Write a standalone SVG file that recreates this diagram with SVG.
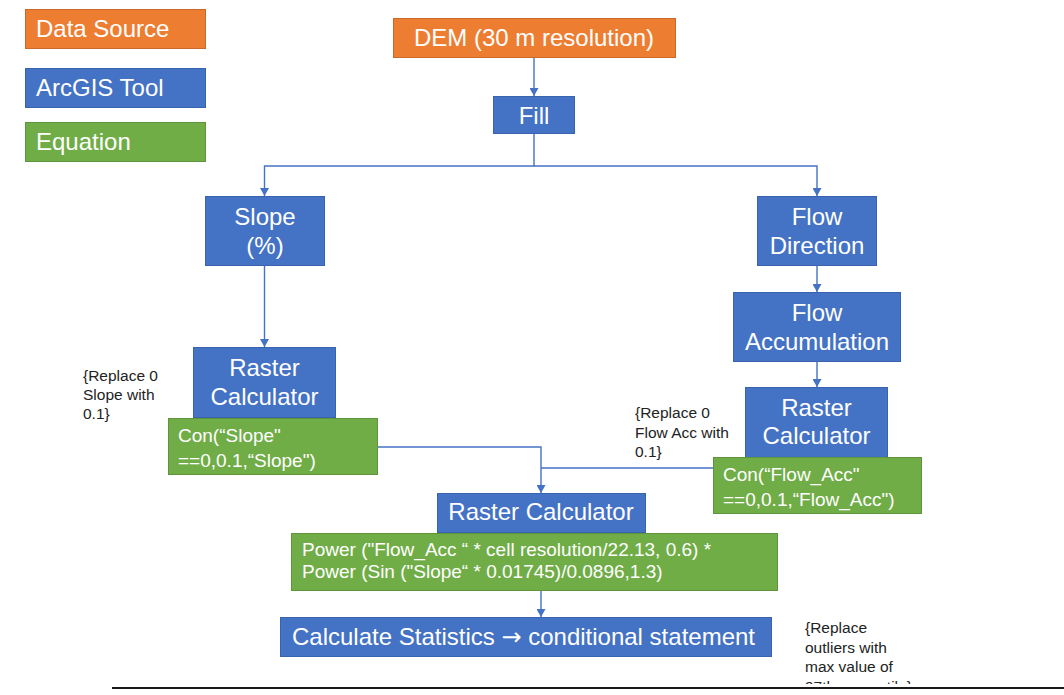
<svg xmlns="http://www.w3.org/2000/svg" width="1064" height="695" viewBox="0 0 1064 695">
  <defs>
    <style>
      .src{fill:#ED7D31;stroke:#C9692A;stroke-width:1}
      .tool{fill:#4472C4;stroke:#3A63AD;stroke-width:1}
      .eq{fill:#70AD47;stroke:#5E943B;stroke-width:1}
      .big{font-family:"Liberation Sans",Arial,sans-serif;font-size:24px;fill:#FFFFFF}
      .mid{font-family:"Liberation Sans",Arial,sans-serif;font-size:19px;fill:#FFFFFF}
      .note{font-family:"Liberation Sans",Arial,sans-serif;font-size:15.5px;fill:#222222}
      .c{text-anchor:middle}
      .arrowglyph{font-family:"DejaVu Sans",sans-serif;font-size:24px}
      .conn{fill:none;stroke:#4472C4;stroke-width:1.4}
    </style>
    <marker id="arr" markerUnits="userSpaceOnUse" markerWidth="9" markerHeight="9" refX="8" refY="4.5" orient="auto">
      <path d="M0,0 L8,4.5 L0,9 z" fill="#4472C4"/>
    </marker>
    <clipPath id="clipNote">
      <rect x="790" y="600" width="274" height="84"/>
    </clipPath>
  </defs>
  <rect width="1064" height="695" fill="#FFFFFF"/>

  <g id="legend-data-source">
    <rect class="src" x="25.5" y="9.5" width="180" height="39"/>
    <text class="big" x="36" y="37">Data Source</text>
  </g>
  <g id="legend-arcgis-tool">
    <rect class="tool" x="25.5" y="68.5" width="180" height="39"/>
    <text class="big" x="36" y="96">ArcGIS Tool</text>
  </g>
  <g id="legend-equation">
    <rect class="eq" x="25.5" y="122.5" width="180" height="39"/>
    <text class="big" x="36" y="150">Equation</text>
  </g>

  <g id="connectors">
    <path class="conn" d="M534,58 V96" marker-end="url(#arr)"/>
    <path class="conn" d="M534,134 V166 H264.5 V196" marker-end="url(#arr)"/>
    <path class="conn" d="M534,166 H817 V196" marker-end="url(#arr)"/>
    <path class="conn" d="M264.5,266 V347" marker-end="url(#arr)"/>
    <path class="conn" d="M817,266 V292" marker-end="url(#arr)"/>
    <path class="conn" d="M817,362 V387" marker-end="url(#arr)"/>
    <path class="conn" d="M378,447 H541 V493" marker-end="url(#arr)"/>
    <path class="conn" d="M713,468 H541"/>
    <path class="conn" d="M541,591 V617" marker-end="url(#arr)"/>
  </g>

  <g id="dem">
    <rect class="src" x="393.5" y="18.5" width="282" height="39"/>
    <text class="big c" x="534" y="46">DEM (30 m resolution)</text>
  </g>
  <g id="fill">
    <rect class="tool" x="493.5" y="96.5" width="81" height="37"/>
    <text class="big c" x="534" y="124">Fill</text>
  </g>
  <g id="slope">
    <rect class="tool" x="205.5" y="196.5" width="119" height="69"/>
    <text class="big c" x="265" y="225">Slope</text>
    <text class="big c" x="265" y="254">(%)</text>
  </g>
  <g id="flow-direction">
    <rect class="tool" x="757.5" y="196.5" width="119" height="69"/>
    <text class="big c" x="817" y="225">Flow</text>
    <text class="big c" x="817" y="254">Direction</text>
  </g>
  <g id="flow-accumulation">
    <rect class="tool" x="733.5" y="292.5" width="167" height="69"/>
    <text class="big c" x="817" y="321">Flow</text>
    <text class="big c" x="817" y="350">Accumulation</text>
  </g>
  <g id="raster-calc-slope">
    <rect class="tool" x="193.5" y="347.5" width="142" height="70"/>
    <text class="big c" x="264.5" y="376">Raster</text>
    <text class="big c" x="264.5" y="405">Calculator</text>
  </g>
  <g id="con-slope">
    <rect class="eq" x="168.5" y="418.5" width="209" height="56"/>
    <text class="mid" x="178" y="442">Con(“Slope"</text>
    <text class="mid" x="178" y="467">==0,0.1,“Slope")</text>
  </g>
  <g id="note-slope">
    <text class="note" x="83" y="381">{Replace 0</text>
    <text class="note" x="83" y="400">Slope with</text>
    <text class="note" x="83" y="419">0.1}</text>
  </g>
  <g id="raster-calc-flow">
    <rect class="tool" x="745.5" y="387.5" width="142" height="70"/>
    <text class="big c" x="816.5" y="416">Raster</text>
    <text class="big c" x="816.5" y="444">Calculator</text>
  </g>
  <g id="con-flow">
    <rect class="eq" x="713.5" y="457.5" width="208" height="56"/>
    <text class="mid" x="723" y="481">Con(“Flow_Acc"</text>
    <text class="mid" x="723" y="506">==0,0.1,“Flow_Acc")</text>
  </g>
  <g id="note-flow">
    <text class="note" x="635" y="418">{Replace 0</text>
    <text class="note" x="635" y="438">Flow Acc with</text>
    <text class="note" x="635" y="457">0.1}</text>
  </g>
  <g id="raster-calc-main">
    <rect class="tool" x="437.5" y="493.5" width="208" height="39"/>
    <text class="big c" x="541" y="520">Raster Calculator</text>
  </g>
  <g id="power-equation">
    <rect class="eq" x="291.5" y="533.5" width="486" height="57"/>
    <text class="mid" x="302" y="556">Power ("Flow_Acc “ * cell resolution/22.13, 0.6) *</text>
    <text class="mid" x="302" y="578">Power (Sin ("Slope“ * 0.01745)/0.0896,1.3)</text>
  </g>
  <g id="calc-statistics">
    <rect class="tool" x="280.5" y="617.5" width="491" height="39"/>
    <text class="big" x="292" y="645">Calculate Statistics <tspan class="arrowglyph">→</tspan> conditional statement</text>
  </g>
  <g id="note-outliers" clip-path="url(#clipNote)">
    <text class="note" x="805" y="633">{Replace</text>
    <text class="note" x="805" y="653">outliers with</text>
    <text class="note" x="805" y="672">max value of</text>
    <text class="note" x="805" y="692">97th percentile}</text>
  </g>

  <line x1="112" y1="688" x2="1064" y2="688" stroke="#1A1A1A" stroke-width="2"/>
</svg>
